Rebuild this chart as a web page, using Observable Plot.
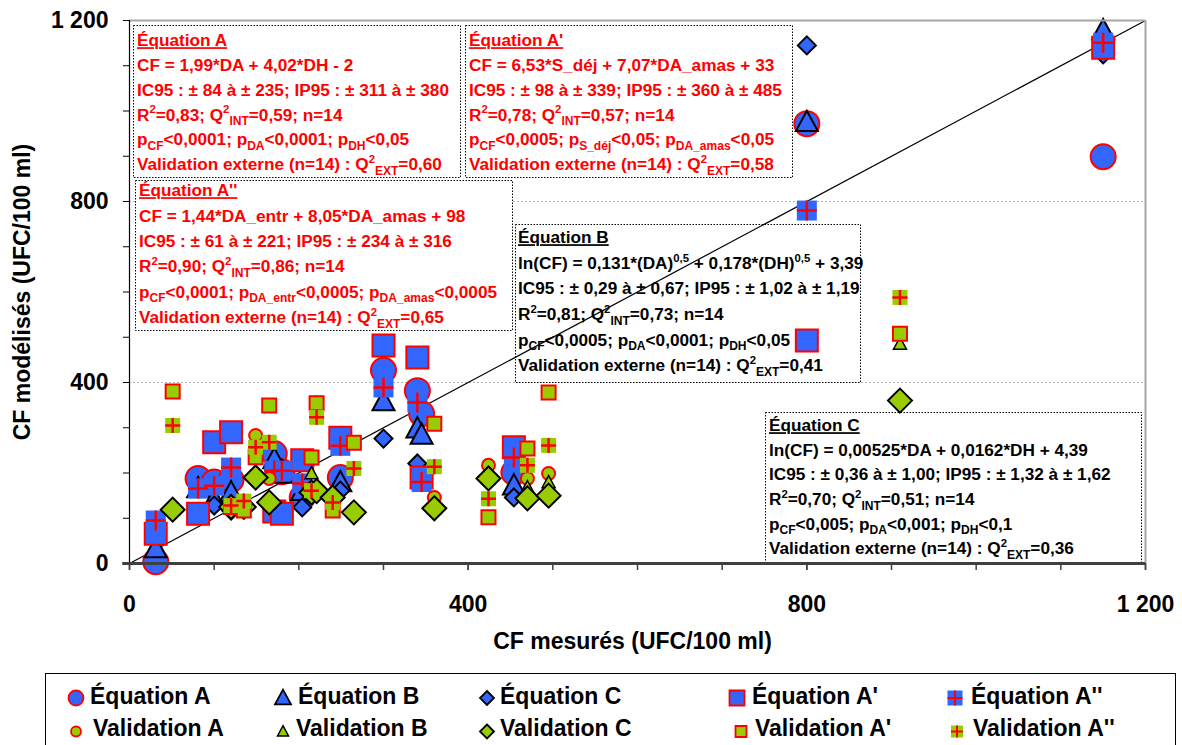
<!DOCTYPE html>
<html><head><meta charset="utf-8">
<script src="https://cdn.jsdelivr.net/npm/d3@7"></script>
<script src="https://cdn.jsdelivr.net/npm/@observablehq/plot@0.6"></script>
<style>
body{margin:0;background:#fff;font-family:Arial,"Liberation Sans",sans-serif;}
#wrap{position:relative;width:1182px;height:745px;overflow:hidden;background:#fff;}
#chart{position:absolute;left:0;top:0;}
#legend{position:absolute;left:45px;top:673px;}
</style></head><body>
<div id="wrap"><div id="chart"></div><div id="legend"></div></div>
<script>
// ---------- DATA ----------
// calibration (14 points): measured CF and modelled CF by equation
const calX = [31, 81, 100, 120, 171, 180, 204, 249, 300, 340, 345, 454, 800, 1150];
const eqA  = [4, 188, 180, 185, 243, 203, 146, 190, 427, 382, 331, 201, 972, 899];
const eqB  = [33, 166, 141, 157, 230, 198, 160, 179, 358, 298, 284, 172, 975, 1178];
const eqC  = [66, 110, 128, 117, 205, 210, 124, 161, 276, 221, 190, 146, 1145, 1125];
const eqA1 = [66, 110, 268, 290, 115, 110, 228, 278, 482, 455, 190, 257, 493, 1140];
const eqA2 = [95, 166, 172, 212, 205, 205, 177, 260, 389, 356, 180, 234, 780, 1151];
// external validation (14 points)
const valX  = [51, 120, 135, 149, 165, 215, 221, 240, 265, 360, 424, 470, 495, 910];
const valA  = [119, 125, 117, 283, 188, 236, 354, 146, 113, 146, 217, 188, 199, 508];
const valB  = [119, 125, 117, 190, 135, 199, 354, 146, 113, 122, 188, 168, 179, 485];
const valC  = [119, 125, 125, 190, 135, 157, 160, 146, 113, 122, 188, 144, 150, 360];
const valA1 = [380, 125, 117, 235, 349, 234, 354, 117, 267, 309, 102, 254, 378, 508];
const valA2 = [305, 128, 138, 257, 268, 161, 323, 135, 210, 214, 143, 217, 261, 588];
// 1:1 reference line (measured = modelled)
const diagMeasured = [0, 1200];
const diagModelled = [0, 1200];
// ticks
const majorTicks = [0, 400, 800, 1200];
const majorTickLabels = ["0", "400", "800", "1 200"];
const minorTicks = [0, 100, 200, 300, 400, 500, 600, 700, 800, 900, 1000, 1100, 1200];
const gridY = [400, 800];
// titles
const xTitle = "CF mesurés (UFC/100 ml)";
const yTitle = "CF modélisés (UFC/100 ml)";
// legend
const legendRow1 = ["Équation A", "Équation B", "Équation C", "Équation A'", "Équation A''"];
const legendRow2 = ["Validation A", "Validation B", "Validation C", "Validation A'", "Validation A''"];
// annotation text
const boxTextA = ["Équation A", "CF = 1,99*DA + 4,02*DH - 2", "IC95 : ± 84 à ± 235; IP95 : ± 311 à ± 380", "R^{2}=0,83; Q^{2}_{INT}=0,59; n=14", "p_{CF}<0,0001; p_{DA}<0,0001; p_{DH}<0,05", "Validation externe (n=14) : Q^{2}_{EXT}=0,60"];
const boxTextA1 = ["Équation A'", "CF = 6,53*S_déj + 7,07*DA_amas + 33", "IC95 : ± 98 à ± 339; IP95 : ± 360 à ± 485", "R^{2}=0,78; Q^{2}_{INT}=0,57; n=14", "p_{CF}<0,0005; p_{S_déj}<0,05; p_{DA_amas}<0,05", "Validation externe (n=14) : Q^{2}_{EXT}=0,58"];
const boxTextA2 = ["Équation A''", "CF = 1,44*DA_entr + 8,05*DA_amas + 98", "IC95 : ± 61 à ± 221; IP95 : ± 234 à ± 316", "R^{2}=0,90; Q^{2}_{INT}=0,86; n=14", "p_{CF}<0,0001; p_{DA_entr}<0,0005; p_{DA_amas}<0,0005", "Validation externe (n=14) : Q^{2}_{EXT}=0,65"];
const boxTextB = ["Équation B", "ln(CF) = 0,131*(DA)^{0,5} + 0,178*(DH)^{0,5} + 3,39", "IC95 : ± 0,29 à ± 0,67; IP95 : ± 1,02 à ± 1,19", "R^{2}=0,81; Q^{2}_{INT}=0,73; n=14", "p_{CF}<0,0005; p_{DA}<0,0001; p_{DH}<0,05", "Validation externe (n=14) : Q^{2}_{EXT}=0,41"];
const boxTextC = ["Équation C", "ln(CF) = 0,00525*DA + 0,0162*DH + 4,39", "IC95 : ± 0,36 à ± 1,00; IP95 : ± 1,32 à ± 1,62", "R^{2}=0,70; Q^{2}_{INT}=0,51; n=14", "p_{CF}<0,005; p_{DA}<0,001; p_{DH}<0,1", "Validation externe (n=14) : Q^{2}_{EXT}=0,36"];

// ---------- STYLE ----------
const BLUE = "#3366ff", RED = "#ff0000", GREEN = "#99cc00", BLACK = "#000000";
const FONT = "Arial, 'Liberation Sans', sans-serif";

// custom symbols (r = half width)
const mk = (f) => ({draw(ctx, size) { const r = Math.sqrt(size / Math.PI); f(ctx, r); }});
const symCircle = mk((c, r) => { c.moveTo(r, 0); c.arc(0, 0, r, 0, 2 * Math.PI); c.closePath(); });
const symSquare = mk((c, r) => { c.rect(-r, -r, 2 * r, 2 * r); });
const symDiamond = mk((c, r) => { c.moveTo(0, -r); c.lineTo(r, 0); c.lineTo(0, r); c.lineTo(-r, 0); c.closePath(); });
const symTriangle = mk((c, r) => { c.moveTo(0, -r * 1.05); c.lineTo(r, r * 0.8); c.lineTo(-r, r * 0.8); c.closePath(); });
const symPlus = mk((c, r) => { c.moveTo(-r, 0); c.lineTo(r, 0); c.moveTo(0, -r); c.lineTo(0, r); });

const cal = calX.map((x, i) => ({x, A: eqA[i], B: eqB[i], C: eqC[i], A1: eqA1[i], A2: eqA2[i]}));
const val = valX.map((x, i) => ({x, A: valA[i], B: valB[i], C: valC[i], A1: valA1[i], A2: valA2[i]}));
const diagPts = diagMeasured.map((m, i) => ({m, p: diagModelled[i]}));

// marker specs (shared by chart and legend)
const series = [
  {data: cal, y: "A", sym: symCircle, r: 12.5, fill: BLUE, stroke: RED, sw: 2, lr: 7.5},
  {data: cal, y: "B", sym: symTriangle, r: 11, fill: BLUE, stroke: BLACK, sw: 2, lr: 8},
  {data: cal, y: "C", sym: symDiamond, r: 9, fill: BLUE, stroke: BLACK, sw: 2, lr: 7},
  {data: cal, y: "A1", sym: symSquare, r: 11, fill: BLUE, stroke: RED, sw: 2, lr: 7.5},
  {data: cal, y: "A2", sym: symSquare, r: 10, fill: BLUE, stroke: "none", sw: 0, plus: true, lr: 7.5},
  {data: val, y: "A", sym: symCircle, r: 6.5, fill: GREEN, stroke: RED, sw: 2, lr: 5},
  {data: val, y: "B", sym: symTriangle, r: 6.5, fill: GREEN, stroke: BLACK, sw: 1.5, lr: 5.5},
  {data: val, y: "C", sym: symDiamond, r: 12, fill: GREEN, stroke: BLACK, sw: 2, lr: 7},
  {data: val, y: "A1", sym: symSquare, r: 7, fill: GREEN, stroke: RED, sw: 2, lr: 5.5},
  {data: val, y: "A2", sym: symSquare, r: 7.5, fill: GREEN, stroke: "none", sw: 0, plus: true, lr: 6}
];

const dotMarks = [];
for (const s of series) {
  dotMarks.push(Plot.dot(s.data, {x: "x", y: s.y, symbol: s.sym, r: s.r, fill: s.fill, stroke: s.stroke, strokeWidth: s.sw}));
  if (s.plus) dotMarks.push(Plot.dot(s.data, {x: "x", y: s.y, symbol: symPlus, r: s.r, fill: "none", stroke: RED, strokeWidth: 2.5}));
}

const fmt = (d) => majorTickLabels[majorTicks.indexOf(d)];

const svg = Plot.plot({
  width: 1182, height: 670,
  marginLeft: 129, marginRight: 37, marginTop: 20, marginBottom: 107,
  x: {domain: [0, 1200], label: null},
  y: {domain: [0, 1200], label: null},
  style: {fontFamily: FONT, fontWeight: "bold", background: "white", overflow: "visible", color: "#000"},
  marks: [
    Plot.ruleY(gridY, {stroke: "#b4b4b4", strokeDasharray: "2,2", strokeWidth: 1}),
    Plot.link(diagPts.slice(0, 1), {x1: "m", y1: "p", x2: () => diagPts[1].m, y2: () => diagPts[1].p, stroke: "#000", strokeWidth: 1.2}),
    ...dotMarks,
    Plot.ruleY([1200], {stroke: "#a6a6a6", strokeWidth: 2}),
    Plot.ruleX([1200], {stroke: "#a6a6a6", strokeWidth: 2}),
    Plot.axisX({ticks: minorTicks, tickSize: 7, tickFormat: () => "", stroke: "#404040", strokeWidth: 1.5, label: null}),
    Plot.axisX({ticks: majorTicks, tickSize: 7, tickPadding: 25, tickFormat: fmt, fontSize: 23, stroke: "#404040", strokeWidth: 1.5, label: null}),
    Plot.axisY({ticks: minorTicks, tickSize: 6, tickFormat: () => "", stroke: BLACK, label: null}),
    Plot.axisY({ticks: majorTicks, tickSize: 6, tickPadding: 15, tickFormat: fmt, fontSize: 23, stroke: BLACK, label: null}),
    Plot.ruleX([0], {stroke: BLACK, strokeWidth: 1.2}),
    Plot.ruleY([0], {x1: -8, x2: 1200, stroke: "#404040", strokeWidth: 3}),
    Plot.text([xTitle], {text: d => d, frameAnchor: "bottom", dy: 78, dx: -5, textAnchor: "middle", lineAnchor: "middle", fontSize: 23, fontWeight: "bold"}),
    Plot.text([yTitle], {text: d => d, frameAnchor: "left", dx: -107, rotate: -90, textAnchor: "middle", lineAnchor: "middle", fontSize: 23, fontWeight: "bold"})
  ]
});
document.getElementById("chart").appendChild(svg);

// ---------- annotation boxes (drawn above grid, below line and points) ----------
function rich(sel, str, fs) {
  let cur = 0;
  const parts = str.split(/(\^\{[^}]*\}|_\{[^}]*\})/).filter(p => p);
  for (const p of parts) {
    let target = 0, size = fs, txt = p;
    if (p.startsWith("^{")) { target = -0.42 * fs; size = 0.66 * fs; txt = p.slice(2, -1); }
    else if (p.startsWith("_{")) { target = 0.27 * fs; size = 0.7 * fs; txt = p.slice(2, -1); }
    const t = sel.append("tspan").attr("font-size", size).text(txt);
    if (target !== cur) t.attr("dy", target - cur);
    cur = target;
  }
}
const boxes = [
  {lines: boxTextA, color: RED, x: 133, y: 25, w: 327, h: 152, tx: 137, ty: 40, dl: 24.8},
  {lines: boxTextA1, color: RED, x: 465, y: 25, w: 327, h: 152, tx: 469, ty: 40, dl: 24.8},
  {lines: boxTextA2, color: RED, x: 135, y: 180, w: 377, h: 150, tx: 139, ty: 190, dl: 25.4},
  {lines: boxTextB, color: BLACK, x: 515, y: 224, w: 345, h: 158, tx: 518, ty: 237, dl: 25.6},
  {lines: boxTextC, color: BLACK, x: 765, y: 412, w: 376, h: 151, tx: 769, ty: 425, dl: 24.6}
];
const FS = 17.2;
const diagG = svg.querySelector('g[aria-label="link"]');
const bg = d3.create("svg:g").attr("font-family", FONT).attr("font-weight", "bold").attr("text-anchor", "start");
for (const b of boxes) {
  bg.append("rect").attr("x", b.x + 0.5).attr("y", b.y + 0.5).attr("width", b.w).attr("height", b.h)
    .attr("fill", "#fff").attr("stroke", "#000").attr("stroke-width", 1).attr("stroke-dasharray", "1.5,1.5");
  b.lines.forEach((ln, i) => {
    const t = bg.append("text").attr("x", b.tx).attr("y", b.ty + i * b.dl + 0.36 * FS)
      .attr("fill", b.color).attr("font-size", FS).attr("text-anchor", "start");
    if (i === 0) t.attr("text-decoration", "underline").text(ln);
    else rich(t, ln, FS);
  });
}
if (diagG) svg.insertBefore(bg.node(), diagG);
else svg.insertBefore(bg.node(), svg.querySelector('g[aria-label="dot"]'));

// ---------- legend ----------
const leg = d3.select("#legend").append("svg").attr("width", 1131).attr("height", 100)
  .attr("font-family", FONT).attr("font-weight", "bold");
leg.append("rect").attr("x", 0.5).attr("y", 0.5).attr("width", 1130).attr("height", 98)
  .attr("fill", "#fff").attr("stroke", "#000").attr("stroke-width", 1);
const legMX = [[31, 238, 442, 692, 910], [31, 238, 442, 696, 912]];
const legTX = [[45, 253, 455, 707, 926], [48, 251, 455, 710, 928]];
const legMY = [25, 58.5], legTY = [30.5, 62.5];
[legendRow1, legendRow2].forEach((row, ri) => {
  row.forEach((label, ci) => {
    const s = series[ri * 5 + ci];
    const g = leg.append("g").attr("transform", `translate(${legMX[ri][ci]},${legMY[ri]})`);
    g.append("path").attr("d", d3.symbol(s.sym, s.lr * s.lr * Math.PI)())
      .attr("fill", s.fill).attr("stroke", s.stroke).attr("stroke-width", s.sw === 0 ? 0 : Math.min(s.sw, 1.8));
    if (s.plus) g.append("path").attr("d", d3.symbol(symPlus, s.lr * s.lr * Math.PI)())
      .attr("fill", "none").attr("stroke", RED).attr("stroke-width", 2);
    leg.append("text").attr("x", legTX[ri][ci]).attr("y", legTY[ri]).attr("font-size", 23).attr("fill", "#000").text(label);
  });
});
</script>
</body></html>
